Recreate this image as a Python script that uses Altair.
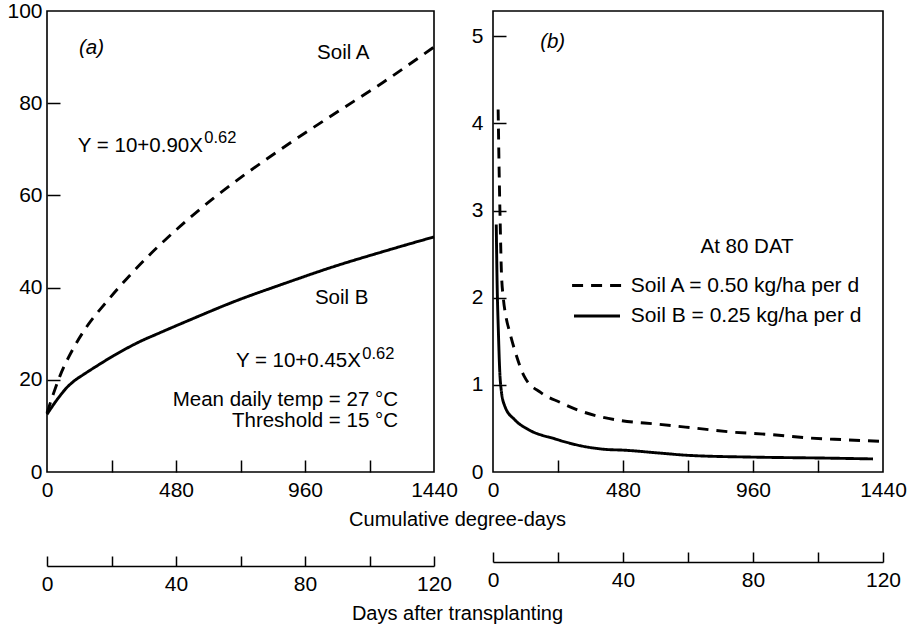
import altair as alt
import pandas as pd

FONT = "Liberation Sans"

# ---------------- data ----------------
# Panel (a): cumulative uptake vs cumulative degree-days
a_soilA_x = [0, 24, 48, 96, 144, 223, 320, 480, 620, 860, 1064, 1250, 1440]
a_soilA_y = [12.8, 17.0, 20.8, 26.6, 31.2, 37.0, 43.4, 52.5, 59.4, 69.6, 77.5, 84.5, 92.2]
a_soilB_x = [0, 24, 48, 72, 100, 140, 180, 250, 346, 420, 532, 707, 879, 1064, 1250, 1440]
a_soilB_y = [12.5, 14.6, 16.5, 18.2, 19.7, 21.3, 22.8, 25.3, 28.3, 30.2, 33.0, 37.2, 40.8, 44.5, 47.8, 51.0]

# Panel (b): uptake rate vs cumulative degree-days
b_soilA_x = [19, 23, 27, 31, 38, 48, 62, 80, 115, 177, 247, 314, 388, 473, 605, 727, 875, 1023, 1170, 1300, 1440]
b_soilA_y = [4.16, 3.4, 2.8, 2.3, 2.0, 1.78, 1.6, 1.40, 1.10, 0.91, 0.80, 0.71, 0.64, 0.59, 0.55, 0.51, 0.46, 0.43, 0.39, 0.37, 0.35]
b_soilB_x = [12, 15, 20, 25, 30, 43, 80, 129, 229, 325, 413, 487, 605, 727, 975, 1220, 1403]
b_soilB_y = [2.84, 2.2, 1.6, 1.15, 0.95, 0.76, 0.60, 0.49, 0.38, 0.30, 0.26, 0.25, 0.22, 0.19, 0.17, 0.16, 0.15]

soil_names = ["Soil A", "Soil B"]

# axes
deg_label_values = [0, 480, 960, 1440]
deg_tick_values = [240, 480, 720, 960, 1200]
day_label_values = [0, 40, 80, 120]
day_tick_values = [0, 20, 40, 60, 80, 100, 120]
deg_per_day = 12
a_y_labels = [0, 20, 40, 60, 80, 100]
a_y_ticks = [20, 40, 60, 80]
b_y_labels = [0, 1, 2, 3, 4, 5]
b_y_ticks = [1, 2, 3, 4, 5]

# annotations, panel (a)  (data coordinates)
a_left_text = ["(a)", "Soil A", "Soil B"]
a_left_x = [119, 1005, 997]
a_left_y = [92.0, 90.9, 37.8]
a_eq_text = ["Y = 10+0.90X", "Y = 10+0.45X"]
a_eq_x = [580, 1168]
a_eq_y = [70.7, 24.1]
a_sup_text = ["0.62", "0.62"]
a_sup_x = [585, 1173]
a_sup_y = [72.4, 25.7]
a_right_text = ["Mean daily temp = 27 \u00b0C", "Threshold = 15 \u00b0C"]
a_right_x = [1306, 1306]
a_right_y = [15.7, 11.1]

# annotations, panel (b)
b_tag_x, b_tag_y = [174], [4.94]
b_leg_title = ["At 80 DAT"]
b_leg_title_x, b_leg_title_y = [938], [2.58]
b_leg_labels = ["Soil A = 0.50 kg/ha per d", "Soil B = 0.25 kg/ha per d"]
b_leg_line_x1 = [292, 299]
b_leg_line_x2 = [476, 469]
b_leg_y = [2.14, 1.79]
b_leg_text_x = [509, 509]

# ---------------- helpers ----------------
DASH = alt.Scale(domain=soil_names, range=[[11, 8], [1, 0]])


def curves_df(xa, ya, xb, yb):
    return pd.DataFrame({
        "x": xa + xb,
        "y": ya + yb,
        "soil": ["Soil A"] * len(xa) + ["Soil B"] * len(xb),
    })


def panel(df, xs, ys, y_labels, y_ticks, y_lab_pad, day_offset, deg_title, day_title, extra):
    lines = alt.Chart(df).mark_line(color="black", strokeWidth=2.9, interpolate="monotone").encode(
        x=alt.X("x:Q", scale=xs, axis=alt.Axis(
            orient="bottom", values=deg_label_values, format="d", tickSize=0, domain=False,
            grid=False, labelPadding=7, labelFlush=False,
            title=deg_title if deg_title else None,
            titleX=410, titleY=47, titleAlign="center", titleBaseline="middle",
            titleFontWeight="normal")),
        y=alt.Y("y:Q", scale=ys, axis=alt.Axis(
            orient="left", values=y_labels, format="d", tickSize=0, domain=False, grid=False,
            labelPadding=y_lab_pad, labelFlush=False, title=None)),
        strokeDash=alt.StrokeDash("soil:N", scale=DASH, legend=None),
    )
    inner_ticks = alt.Chart(df).mark_point(opacity=0).encode(
        x=alt.X("x:Q", scale=xs, axis=alt.Axis(
            orient="bottom", offset=-12, values=deg_tick_values, tickSize=12, tickWidth=1.5,
            labels=False, domain=False, grid=False, title=None)),
        y=alt.Y("y:Q", scale=ys, axis=alt.Axis(
            orient="left", offset=-13, values=y_ticks, tickSize=13, tickWidth=1.5,
            labels=False, domain=False, grid=False, title=None)),
    )
    days_axis = alt.Chart(df).mark_point(opacity=0).encode(
        x=alt.X("x:Q", scale=xs, axis=alt.Axis(
            orient="bottom", offset=day_offset,
            values=[d * deg_per_day for d in day_label_values],
            labelExpr="format(datum.value / %d, 'd')" % deg_per_day,
            tickSize=0, domain=True, domainWidth=1.5, grid=False,
            labelPadding=7, labelFlush=False,
            title=day_title if day_title else None,
            titleX=410, titleY=47, titleAlign="center", titleBaseline="middle",
            titleFontWeight="normal")),
        y=alt.Y("y:Q", scale=ys, axis=None),
    )
    days_ticks = alt.Chart(df).mark_point(opacity=0).encode(
        x=alt.X("x:Q", scale=xs, axis=alt.Axis(
            orient="bottom", offset=day_offset - 10,
            values=[d * deg_per_day for d in day_tick_values],
            tickSize=10, tickWidth=1.5, labels=False, domain=False, grid=False, title=None)),
        y=alt.Y("y:Q", scale=ys, axis=None),
    )
    return alt.layer(lines, inner_ticks, days_axis, days_ticks, *extra).resolve_axis(
        x="independent", y="independent")


def text_layer(xs, ys, xv, yv, tv, align, size=20.5, style="normal"):
    d = pd.DataFrame({"x": xv, "y": yv, "t": tv})
    return alt.Chart(d).mark_text(
        align=align, baseline="middle", fontSize=size, font=FONT, color="black", fontStyle=style
    ).encode(
        x=alt.X("x:Q", scale=xs, axis=None),
        y=alt.Y("y:Q", scale=ys, axis=None),
        text="t:N",
    )


# ---------------- panel (a) ----------------
xs_a = alt.Scale(domain=[0, 1440], nice=False, zero=False)
ys_a = alt.Scale(domain=[0, 100], nice=False)
df_a = curves_df(a_soilA_x, a_soilA_y, a_soilB_x, a_soilB_y)

extra_a = [
    text_layer(xs_a, ys_a, a_left_x[:1], a_left_y[:1], a_left_text[:1], "left", style="italic"),
    text_layer(xs_a, ys_a, a_left_x[1:], a_left_y[1:], a_left_text[1:], "left"),
    text_layer(xs_a, ys_a, a_eq_x, a_eq_y, a_eq_text, "right"),
    text_layer(xs_a, ys_a, a_sup_x, a_sup_y, a_sup_text, "left", size=16.5),
    text_layer(xs_a, ys_a, a_right_x, a_right_y, a_right_text, "right"),
]
left = panel(df_a, xs_a, ys_a, a_y_labels, a_y_ticks, 5, 94,
             "Cumulative degree-days", "Days after transplanting", extra_a
             ).properties(width=387, height=461)

# ---------------- panel (b) ----------------
xs_b = alt.Scale(domain=[0, 1440], nice=False, zero=False)
ys_b = alt.Scale(domain=[0, 5.29], nice=False)
df_b = curves_df(b_soilA_x, b_soilA_y, b_soilB_x, b_soilB_y)

leg_df = pd.DataFrame({
    "x": b_leg_line_x1, "x2": b_leg_line_x2, "y": b_leg_y, "soil": soil_names,
})
leg_lines = alt.Chart(leg_df).mark_rule(color="black", strokeWidth=2.9).encode(
    x=alt.X("x:Q", scale=xs_b, axis=None),
    x2="x2:Q",
    y=alt.Y("y:Q", scale=ys_b, axis=None),
    strokeDash=alt.StrokeDash("soil:N", scale=DASH, legend=None),
)
extra_b = [
    text_layer(xs_b, ys_b, b_tag_x, b_tag_y, ["(b)"], "left", style="italic"),
    text_layer(xs_b, ys_b, b_leg_title_x, b_leg_title_y, b_leg_title, "center"),
    text_layer(xs_b, ys_b, b_leg_text_x, b_leg_y, b_leg_labels, "left", size=21),
    leg_lines,
]
right = panel(df_b, xs_b, ys_b, b_y_labels, b_y_ticks, 10, 90, None, None, extra_b
              ).properties(width=390, height=461)

chart = alt.hconcat(left, right, spacing=59, bounds="flush").properties(
    autosize=alt.AutoSizeParams(type="none"),
    padding={"left": 47, "top": 11, "right": 867, "bottom": 617},
).configure_view(
    stroke="black", strokeWidth=1.6
).configure_axis(
    labelFont=FONT, labelFontSize=21, labelColor="black",
    titleFont=FONT, titleFontSize=20, titleColor="black",
    tickColor="black", domainColor="black",
)

chart.save("out.html", embed_options={"renderer": "svg", "actions": False})
